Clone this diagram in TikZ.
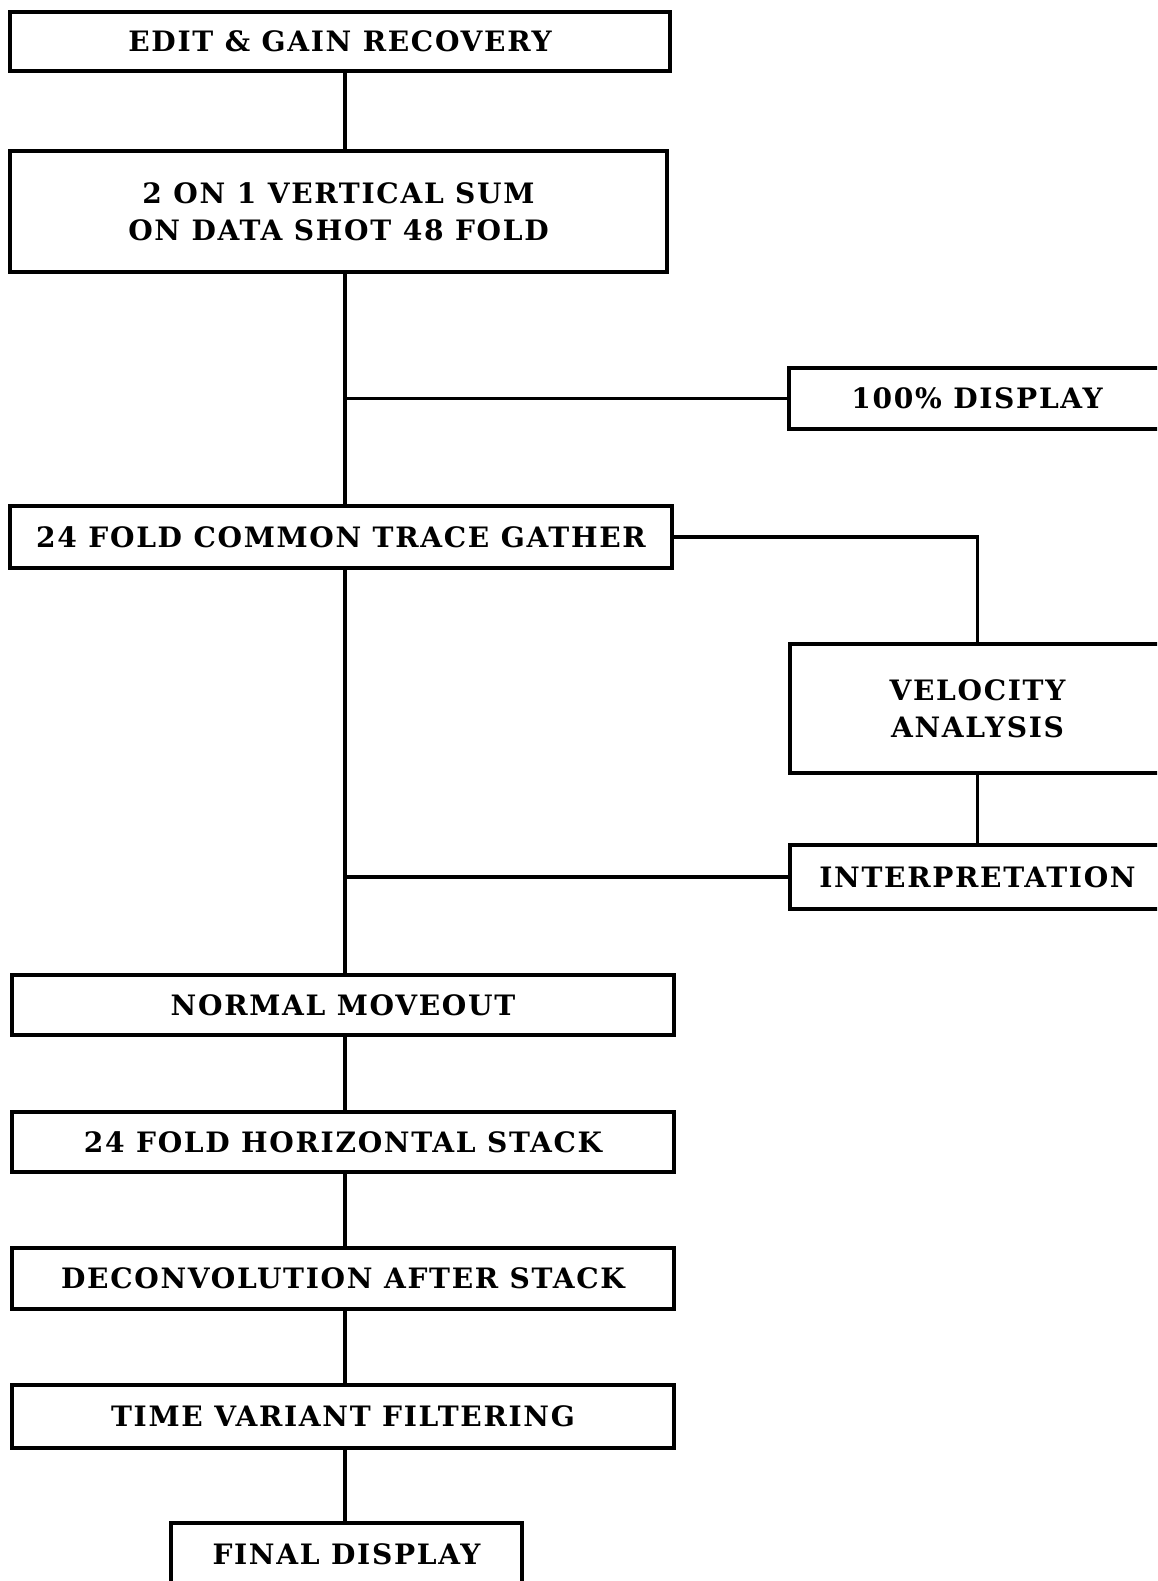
\documentclass[tikz,border=0pt]{standalone}
\usepackage{fontspec}
\setmainfont[LetterSpace=6]{DejaVu Serif}
\tikzset{
  stepbox/.style={draw,line width=1.8pt,font=\bfseries\fontsize{16}{21}\selectfont,align=center,inner sep=0pt},
  link/.style={line width=1.8pt}
}
\begin{document}
\begin{tikzpicture}[x=0.02cm,y=-0.02cm]
            \clip (0,0) rectangle (1157,1581);
            \fill[white] (0,0) rectangle (1157,1581);
            \coordinate (trunk) at (345,0);
            \node[stepbox,minimum width=13.2cm,minimum height=1.18cm] (edit) at (340,41.5) {EDIT \& GAIN RECOVERY};
            \node[stepbox,minimum width=13.14cm,minimum height=2.42cm] (vsum) at (338.5,211.5) {2 ON 1 VERTICAL SUM\\ON DATA SHOT 48 FOLD};
            \node[stepbox,minimum width=7.52cm,minimum height=1.22cm] (disp) at (977,398.5) {100\% DISPLAY};
            \node[stepbox,minimum width=13.24cm,minimum height=1.24cm] (gather) at (341,537) {24 FOLD COMMON TRACE GATHER};
            \node[stepbox,minimum width=7.5cm,minimum height=2.58cm] (velo) at (977.5,708.5) {VELOCITY\\ANALYSIS};
            \node[stepbox,minimum width=7.5cm,minimum height=1.28cm] (interp) at (977.5,877) {INTERPRETATION};
            \node[stepbox,minimum width=13.24cm,minimum height=1.2cm] (nmo) at (343,1005) {NORMAL MOVEOUT};
            \node[stepbox,minimum width=13.24cm,minimum height=1.2cm] (hstack) at (343,1142) {24 FOLD HORIZONTAL STACK};
            \node[stepbox,minimum width=13.24cm,minimum height=1.22cm] (decon) at (343,1278.5) {DECONVOLUTION AFTER STACK};
            \node[stepbox,minimum width=13.24cm,minimum height=1.26cm] (tvf) at (343,1416.5) {TIME VARIANT FILTERING};
            \node[stepbox,minimum width=7.02cm,minimum height=1.24cm] (final) at (346.5,1554) {FINAL DISPLAY};
            \draw[link] (edit.south -| trunk) -- (vsum.north -| trunk);
            \draw[link] (vsum.south -| trunk) -- (gather.north -| trunk);
            \draw[link] (disp.west) -- (disp.west -| trunk);
            \draw[link] (gather.east) -| (velo.north);
            \draw[link] (velo.south) -- (interp.north);
            \draw[link] (interp.west) -- (interp.west -| trunk);
            \foreach \a/\b in {gather/nmo,nmo/hstack,hstack/decon,decon/tvf,tvf/final}
              \draw[link] (\a.south -| trunk) -- (\b.north -| trunk);
        \end{tikzpicture}
\end{document}
